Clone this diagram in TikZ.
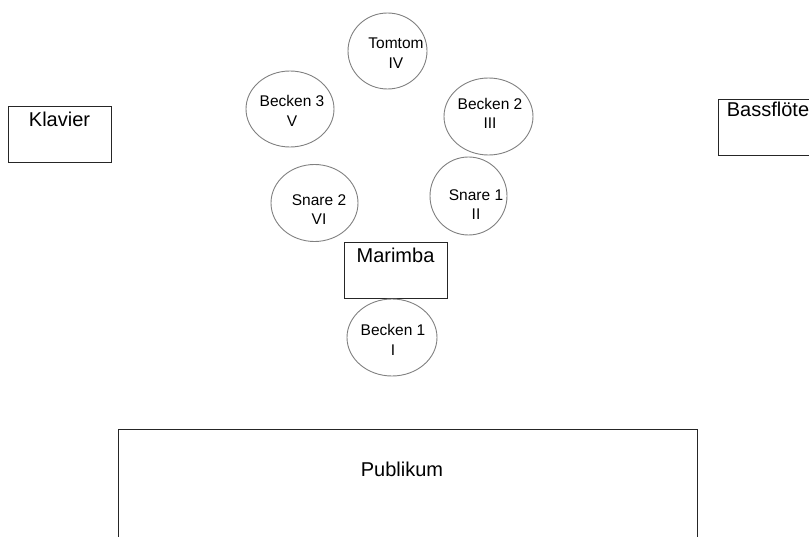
\documentclass[tikz,border=0pt]{standalone}
\usepackage{fontspec}
\setmainfont{Liberation Sans}
\usetikzlibrary{shapes.geometric}
\begin{document}
\begin{tikzpicture}[x=1pt,y=-1pt,
  stagebox/.style={draw=black!85,line width=0.9pt,rectangle,inner sep=0pt,anchor=north west},
  drum/.style={draw=black!50,line width=0.9pt,ellipse,inner sep=0pt},
  boxtext/.style={font=\fontsize{20}{24}\selectfont,anchor=base,inner sep=0pt},
  drumtext/.style={font=\fontsize{15.5}{19.5}\selectfont,align=center,inner sep=0pt}]
\useasboundingbox (0,0) rectangle (809,537);
\clip (0,0) rectangle (809,537);
% boxes
\node[stagebox,minimum width=103pt,minimum height=56pt] (klavier) at (8,106) {};
\node[boxtext] (klaviertxt) at (59.5,127) {Klavier};
\node[stagebox,minimum width=104pt,minimum height=56pt] (bass) at (718,99) {};
\node[boxtext] (basstxt) at (768,117) {Bassflöte};
\node[stagebox,minimum width=103pt,minimum height=56pt] (marimba) at (344,242) {};
\node[boxtext] (marimbatxt) at (395.5,263) {Marimba};
\node[stagebox,minimum width=579pt,minimum height=140pt] (publikum) at (118,429) {};
\node[boxtext] (publikumtxt) at (402,476) {Publikum};
% drums
\node[drum,minimum width=79pt,minimum height=76pt] (tomtom) at (387.5,51) {};
\node[drumtext] (tomtomtxt) at (396,53) {Tomtom\\IV};
\node[drum,minimum width=88pt,minimum height=76pt] (becken3) at (290,109) {};
\node[drumtext] (becken3txt) at (292,111) {Becken 3\\V};
\node[drum,minimum width=89pt,minimum height=77pt] (becken2) at (488.5,116.5) {};
\node[drumtext] (becken2txt) at (490,113.5) {Becken 2\\III};
\node[drum,minimum width=87pt,minimum height=77pt] (snare2) at (314.5,203) {};
\node[drumtext] (snare2txt) at (319,209.5) {Snare 2\\VI};
\node[drum,minimum width=77pt,minimum height=78pt] (snare1) at (468.5,196) {};
\node[drumtext] (snare1txt) at (476,204.5) {Snare 1\\II};
\node[drum,minimum width=90pt,minimum height=77pt] (becken1) at (392,337.5) {};
\node[drumtext] (becken1txt) at (393,340) {Becken 1\\I};
\end{tikzpicture}
\end{document}
